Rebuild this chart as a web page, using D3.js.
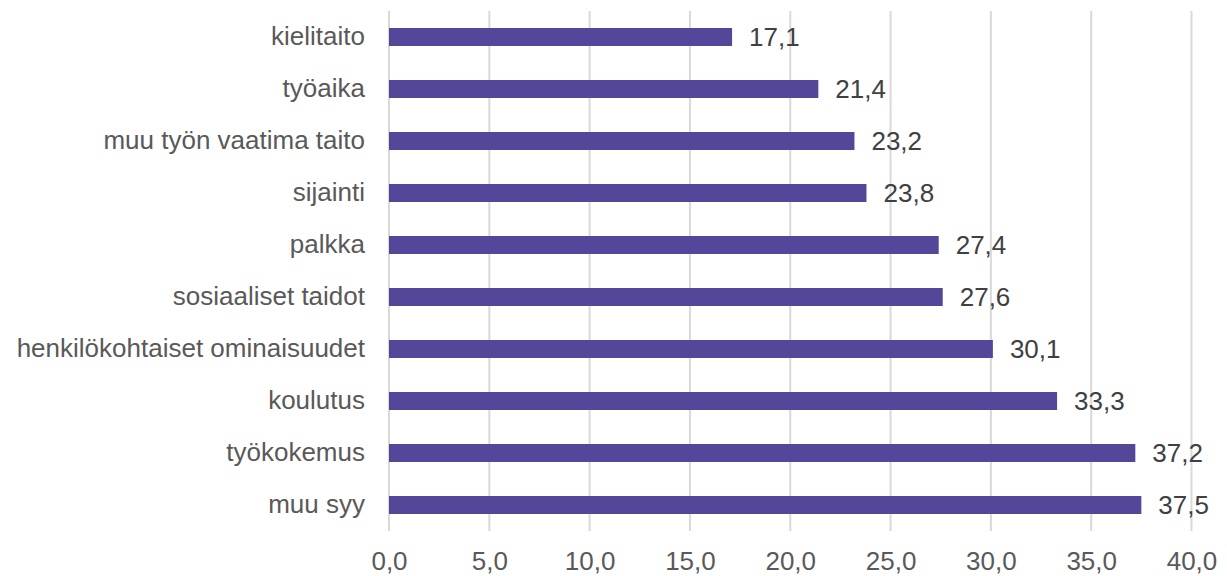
<!DOCTYPE html>
<head>
  <meta charset="utf-8">
  <script src="https://d3js.org/d3.v7.min.js"></script>
  <style>
    body { margin: 0; background: #fff; }
    text { font-family: "Liberation Sans", Arial, sans-serif; }
  </style>
</head>
<body>
  <div id="chart"></div>
</body>
<script>

// data
var categories = ["kielitaito", "työaika", "muu työn vaatima taito", "sijainti", "palkka",
                  "sosiaaliset taidot", "henkilökohtaiset ominaisuudet", "koulutus", "työkokemus", "muu syy"];
var values = [17.1, 21.4, 23.2, 23.8, 27.4, 27.6, 30.1, 33.3, 37.2, 37.5];
var xTicks = [0, 5, 10, 15, 20, 25, 30, 35, 40];

var margin = {top: 11, right: 35, bottom: 45, left: 389};

var svg = d3.select("#chart")
  .append("svg")
    .attr("width", 1227)
    .attr("height", 576)
  .append("g")
    .attr("transform", "translate(" + margin.left + "," + margin.top + ")");

var x = d3.scaleLinear()
  .domain([0, 40])
  .range([0, 802.5]);

var y = d3.scaleBand()
  .domain(categories)
  .range([0, 520])
  .paddingInner(0.654)
  .paddingOuter(0.327);

var fmt = function(d) { return d3.format(".1f")(d).replace(".", ","); };

// vertical gridlines
svg.append("g")
  .selectAll("line")
  .data(xTicks)
  .enter()
  .append("line")
    .attr("x1", function(d) { return x(d); })
    .attr("x2", function(d) { return x(d); })
    .attr("y1", 0)
    .attr("y2", 520)
    .style("stroke", "#d9d9d9")
    .style("stroke-width", 2);

// x axis labels
var xAxis = svg.append("g")
  .attr("transform", "translate(0,520)")
  .call(d3.axisBottom(x).tickValues(xTicks).tickFormat(fmt).tickSize(0).tickPadding(21));
xAxis.select(".domain").remove();
xAxis.selectAll("text")
  .style("font-size", "26px")
  .style("fill", "#595959");

// y axis labels
var yAxis = svg.append("g")
  .call(d3.axisLeft(y).tickSize(0).tickPadding(24));
yAxis.select(".domain").remove();
yAxis.selectAll("text")
  .style("font-size", "26px")
  .style("fill", "#595959");

// bars
svg.append("g")
  .selectAll("rect")
  .data(values)
  .enter()
  .append("rect")
    .attr("x", x(0))
    .attr("y", function(d, i) { return y(categories[i]); })
    .attr("width", function(d) { return x(d) - x(0); })
    .attr("height", y.bandwidth())
    .style("fill", "#54479a");

// value labels
svg.append("g")
  .selectAll("text")
  .data(values)
  .enter()
  .append("text")
    .attr("x", function(d) { return x(d) + 17; })
    .attr("y", function(d, i) { return y(categories[i]) + y.bandwidth() / 2; })
    .attr("dy", "0.35em")
    .text(fmt)
    .style("font-size", "26px")
    .style("fill", "#404040");

</script>
